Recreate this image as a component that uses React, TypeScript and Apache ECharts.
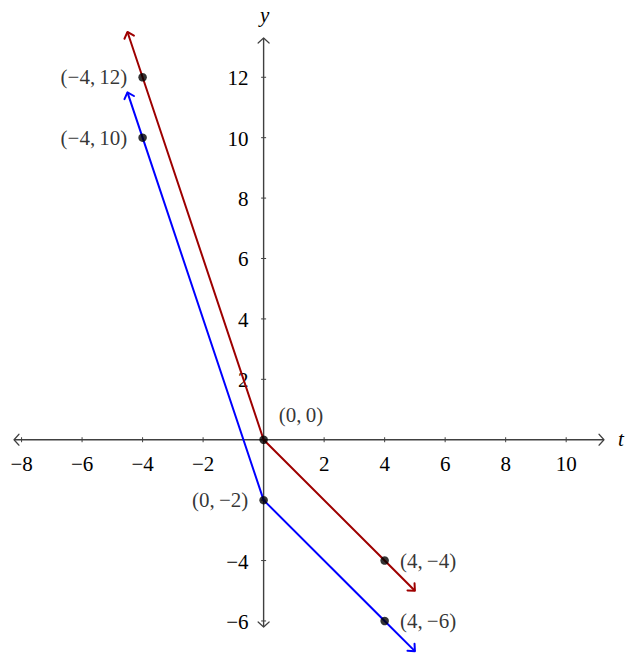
import React, { useEffect, useRef } from "react";
import * as echarts from "echarts";

// Axis ranges and tick values
const xRange = [-8.25, 11.25];
const yRange = [-6.2, 13.3];
const xTickValues = [-8, -6, -4, -2, 2, 4, 6, 8, 10];
const yTickValues = [-6, -4, -2, 2, 4, 6, 8, 10, 12];
const xLabelValues = [-8, -6, -4, -2, 2, 4, 6, 8, 10];
const yLabelValues = [-6, -4, 2, 4, 6, 8, 10, 12];
const xName = "t";
const yName = "y";

// Piecewise lines (t, y)
const redT = [-4.5, -4, 0, 4, 5];
const redY = [13.5, 12, 0, -4, -5];
const blueT = [-4.5, -4, 0, 4, 5];
const blueY = [11.5, 10, -2, -6, -7];

// Marked points
const pointT = [-4, -4, 0, 0, 4, 4];
const pointY = [12, 10, 0, -2, -4, -6];
const pointLabels = ["(−4,\u200912)", "(−4,\u200910)", "(0,\u20090)", "(0,\u2009−2)", "(4,\u2009−4)", "(4,\u2009−6)"];
const pointSides = ["left", "left", "right", "left", "right", "right"];

const RED = "#9e0000";
const BLUE = "#0000ff";
const AXIS = "#404040";
const FONT = "'Liberation Serif', 'DejaVu Serif', serif";
const FS = 21;

const minus = (v: number | string) => String(v).replace("-", "−");

function arrowItem(api: any, color: string, a: number, b: number, w: number) {
  const tip = api.coord([api.value(0), api.value(1)]);
  const from = api.coord([api.value(2), api.value(3)]);
  let dx = tip[0] - from[0];
  let dy = tip[1] - from[1];
  const len = Math.sqrt(dx * dx + dy * dy) || 1;
  dx /= len;
  dy /= len;
  const nx = -dy;
  const ny = dx;
  return {
    type: "polyline",
    shape: {
      points: [
        [tip[0] - a * dx + b * nx, tip[1] - a * dy + b * ny],
        [tip[0], tip[1]],
        [tip[0] - a * dx - b * nx, tip[1] - a * dy - b * ny],
      ],
    },
    style: { stroke: color, fill: "none", lineWidth: w, lineCap: "round", lineJoin: "round" },
  };
}

export default function App() {
  const ref = useRef<HTMLDivElement>(null);

  useEffect(() => {
    document.body.style.margin = "0";
    if (!ref.current) return;
    const chart = echarts.init(ref.current, undefined, { renderer: "svg" });

    const redData = redT.map((t, i) => [t, redY[i]]);
    const blueData = blueT.map((t, i) => [t, blueY[i]]);
    const n = redT.length;
    const redArrows = [
      [redT[0], redY[0], redT[1], redY[1]],
      [redT[n - 1], redY[n - 1], redT[n - 2], redY[n - 2]],
    ];
    const m = blueT.length;
    const blueArrows = [
      [blueT[0], blueY[0], blueT[1], blueY[1]],
      [blueT[m - 1], blueY[m - 1], blueT[m - 2], blueY[m - 2]],
    ];
    const axisLines = [
      [xRange[0], 0, xRange[1], 0],
      [0, yRange[0], 0, yRange[1]],
    ];
    const axisArrows = [
      [xRange[0], 0, 0, 0],
      [xRange[1], 0, 0, 0],
      [0, yRange[0], 0, 0],
      [0, yRange[1], 0, 0],
    ];
    const ticks = [
      ...xTickValues.map((v) => [v, 0, 0]),
      ...yTickValues.map((v) => [0, v, 1]),
    ];
    const xLabels = xLabelValues.map((v) => [v, 0]);
    const yLabels = yLabelValues.map((v) => [0, v]);
    const names = [
      [xRange[1], 0],
      [0, yRange[1]],
    ];
    const nameTexts = [xName, yName];

    const points = pointT.map((t, i) => {
      const isOrigin = t === 0 && pointY[i] === 0;
      return {
        value: [t, pointY[i]],
        label: {
          show: true,
          formatter: pointLabels[i],
          position: pointSides[i],
          distance: 11,
          offset: isOrigin ? [0, -25] : [0, 0],
        },
      };
    });

    const textStyle = (text: string, align: string, italic = false) => ({
      text,
      fill: "#000",
      fontFamily: FONT,
      fontSize: FS,
      fontStyle: italic ? "italic" : "normal",
      align,
      verticalAlign: "middle",
    });

    chart.setOption({
      animation: false,
      backgroundColor: "#ffffff",
      grid: { left: 14, right: 40, top: 38, bottom: 31, containLabel: false, outerBoundsMode: "none" },
      xAxis: {
        type: "value",
        min: xRange[0],
        max: xRange[1],
        axisLine: { show: false },
        axisTick: { show: false },
        splitLine: { show: false },
        axisLabel: { show: false },
      },
      yAxis: {
        type: "value",
        min: yRange[0],
        max: yRange[1],
        axisLine: { show: false },
        axisTick: { show: false },
        splitLine: { show: false },
        axisLabel: { show: false },
      },
      series: [
        {
          type: "custom",
          coordinateSystem: "cartesian2d",
          silent: true,
          clip: false,
          z: 2,
          data: axisLines,
          renderItem: (params: any, api: any) => {
            const p1 = api.coord([api.value(0), api.value(1)]);
            const p2 = api.coord([api.value(2), api.value(3)]);
            return {
              type: "line",
              shape: { x1: p1[0], y1: p1[1], x2: p2[0], y2: p2[1] },
              style: { stroke: AXIS, lineWidth: 1.4 },
            };
          },
        },
        {
          type: "custom",
          coordinateSystem: "cartesian2d",
          silent: true,
          clip: false,
          z: 3,
          data: ticks,
          renderItem: (params: any, api: any) => {
            const p = api.coord([api.value(0), api.value(1)]);
            const vertical = api.value(2) === 0;
            return {
              type: "line",
              shape: vertical
                ? { x1: p[0], y1: p[1] - 2.5, x2: p[0], y2: p[1] + 2.5 }
                : { x1: p[0] - 2.5, y1: p[1], x2: p[0] + 2.5, y2: p[1] },
              style: { stroke: AXIS, lineWidth: 1 },
            };
          },
        },
        {
          type: "custom",
          coordinateSystem: "cartesian2d",
          silent: true,
          clip: false,
          z: 3,
          data: axisArrows,
          renderItem: (params: any, api: any) => arrowItem(api, AXIS, 5, 5.5, 1.2),
        },
        {
          type: "custom",
          coordinateSystem: "cartesian2d",
          silent: true,
          clip: false,
          z: 3,
          data: xLabels,
          renderItem: (params: any, api: any) => {
            const p = api.coord([api.value(0), api.value(1)]);
            return { type: "text", x: p[0], y: p[1] + 24, style: textStyle(minus(api.value(0)), "center") };
          },
        },
        {
          type: "custom",
          coordinateSystem: "cartesian2d",
          silent: true,
          clip: false,
          z: 3,
          data: yLabels,
          renderItem: (params: any, api: any) => {
            const p = api.coord([api.value(0), api.value(1)]);
            return { type: "text", x: p[0] - 15, y: p[1] + 1, style: textStyle(minus(api.value(1)), "right") };
          },
        },
        {
          type: "custom",
          coordinateSystem: "cartesian2d",
          silent: true,
          clip: false,
          z: 3,
          data: names,
          renderItem: (params: any, api: any) => {
            const p = api.coord([api.value(0), api.value(1)]);
            const isX = params.dataIndex === 0;
            return {
              type: "text",
              x: isX ? p[0] + 17 : p[0] + 1,
              y: isX ? p[1] - 1 : p[1] - 23,
              style: textStyle(nameTexts[params.dataIndex], "center", true),
            };
          },
        },
        {
          type: "line",
          data: redData,
          symbol: "none",
          clip: false,
          z: 4,
          lineStyle: { color: RED, width: 2 },
        },
        {
          type: "line",
          data: blueData,
          symbol: "none",
          clip: false,
          z: 4,
          lineStyle: { color: BLUE, width: 2 },
        },
        {
          type: "custom",
          coordinateSystem: "cartesian2d",
          silent: true,
          clip: false,
          z: 4,
          data: redArrows,
          renderItem: (params: any, api: any) => arrowItem(api, RED, 5.5, 5, 2),
        },
        {
          type: "custom",
          coordinateSystem: "cartesian2d",
          silent: true,
          clip: false,
          z: 4,
          data: blueArrows,
          renderItem: (params: any, api: any) => arrowItem(api, BLUE, 5.5, 5, 2),
        },
        {
          type: "scatter",
          data: points,
          symbol: "circle",
          symbolSize: 8.5,
          clip: false,
          z: 6,
          itemStyle: { color: "#000" },
          label: { fontFamily: FONT, fontSize: FS, color: "#000" },
        },
      ],
    });

    return () => chart.dispose();
  }, []);

  return <div ref={ref} style={{ width: 644, height: 658 }} />;
}
